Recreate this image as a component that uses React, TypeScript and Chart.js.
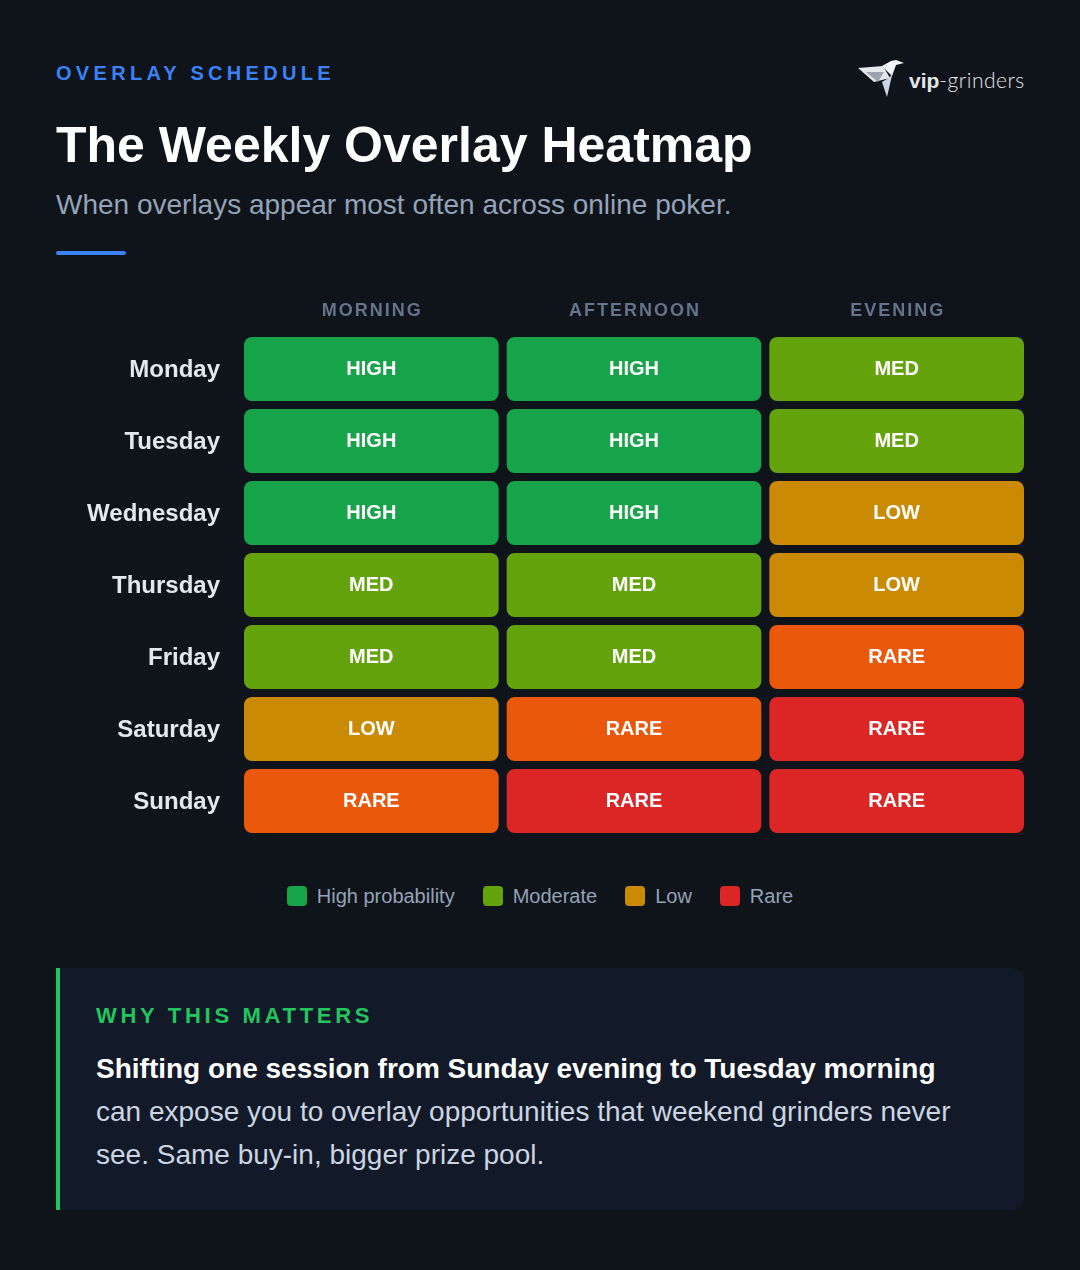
import React, { useEffect, useRef } from 'react';
import { Chart, registerables } from 'chart.js';

Chart.register(...registerables);

const FONT = '"Liberation Sans", Arial, Helvetica, sans-serif';

// ---- data ----
const days = ['Monday', 'Tuesday', 'Wednesday', 'Thursday', 'Friday', 'Saturday', 'Sunday'];
const periods = ['MORNING', 'AFTERNOON', 'EVENING'];
// 5 = HIGH, 4 = MED, 3 = LOW, 2 = RARE (orange), 1 = RARE (red)
const morningLevel = [5, 5, 5, 4, 4, 3, 2];
const afternoonLevel = [5, 5, 5, 4, 4, 2, 1];
const eveningLevel = [4, 4, 3, 3, 2, 1, 1];
const levelText: Record<number, string> = { 5: 'HIGH', 4: 'MED', 3: 'LOW', 2: 'RARE', 1: 'RARE' };
const levelColor: Record<number, string> = {
  5: '#16a34a',
  4: '#65a30d',
  3: '#ca8a04',
  2: '#ea580c',
  1: '#dc2626',
};
const legendLabels = ['High probability', 'Moderate', 'Low', 'Rare'];
const legendColors = ['#16a34a', '#65a30d', '#ca8a04', '#dc2626'];

const periodLevels = [morningLevel, afternoonLevel, eveningLevel];

function HeatmapChart() {
  const ref = useRef<HTMLCanvasElement | null>(null);
  useEffect(() => {
    if (!ref.current) return;
    const INSET = 4 / 262.667; // half of 8px gap in x units

    const cellLabels = {
      id: 'cellLabels',
      afterDatasetsDraw(chart: any) {
        const ctx = chart.ctx;
        ctx.save();
        ctx.font = `bold 20px ${FONT}`;
        ctx.fillStyle = '#ffffff';
        ctx.textAlign = 'center';
        ctx.textBaseline = 'middle';
        chart.data.datasets.forEach((ds: any, di: number) => {
          const meta = chart.getDatasetMeta(di);
          meta.data.forEach((el: any, i: number) => {
            const p = el.getCenterPoint();
            ctx.fillText(levelText[periodLevels[di][i]], p.x, p.y);
          });
        });
        ctx.restore();
      },
    };

    const columnHeaders = {
      id: 'columnHeaders',
      afterDraw(chart: any) {
        const ctx = chart.ctx;
        const xs = chart.scales.x;
        ctx.save();
        ctx.font = `bold 18px ${FONT}`;
        ctx.fillStyle = '#64748b';
        ctx.textAlign = 'center';
        ctx.textBaseline = 'middle';
        try {
          (ctx as any).letterSpacing = '2px';
        } catch (e) {}
        periods.forEach((p, i) => {
          ctx.fillText(p, xs.getPixelForValue(i + 0.5) + 1, chart.chartArea.top - 22);
        });
        ctx.restore();
      },
    };

    const chart = new Chart(ref.current, {
      type: 'bar',
      data: {
        labels: days,
        datasets: periods.map((p, i) => ({
          label: p,
          stack: 'cells',
          data: periodLevels[i].map(() => [i + INSET, i + 1 - INSET]) as any,
          backgroundColor: periodLevels[i].map((l) => levelColor[l]),
          borderRadius: 8,
          borderSkipped: false,
          borderWidth: 0,
          barPercentage: 64 / 72,
          categoryPercentage: 1,
        })),
      },
      options: {
        indexAxis: 'y',
        animation: false,
        responsive: false,
        maintainAspectRatio: false,
        layout: { padding: { top: 53, bottom: 43, left: 0, right: 52 } },
        plugins: {
          legend: { display: false },
          tooltip: { enabled: false },
        },
        scales: {
          x: {
            type: 'linear',
            display: false,
            min: 0,
            max: 3,
            stacked: false,
          },
          y: {
            type: 'category',
            stacked: true,
            grid: { display: false, drawTicks: false },
            border: { display: false },
            ticks: {
              color: '#e2e8f0',
              font: { family: FONT, size: 24, weight: 'bold' },
              padding: 20,
              labelOffset: 1.5,
            },
            afterFit(scale: any) {
              scale.width = 240;
            },
          },
        },
      },
      plugins: [cellLabels, columnHeaders],
    });
    return () => chart.destroy();
  }, []);
  return (
    <canvas
      ref={ref}
      width={1080}
      height={600}
      style={{ position: 'absolute', left: 0, top: 280, width: 1080, height: 600 }}
    />
  );
}

export default function App() {
  return (
    <div
      style={{
        position: 'absolute',
        left: 0,
        top: 0,
        width: 1080,
        height: 1270,
        background: '#0f131a',
        overflow: 'hidden',
        fontFamily: FONT,
      }}
    >
      {/* eyebrow */}
      <div
        style={{
          position: 'absolute',
          left: 56,
          top: 63,
          fontSize: 20,
          lineHeight: '20px',
          fontWeight: 700,
          letterSpacing: '4.3px',
          color: '#3b82f6',
          whiteSpace: 'nowrap',
        }}
      >
        OVERLAY SCHEDULE
      </div>
      {/* logo */}
      <svg
        style={{ position: 'absolute', left: 856, top: 58 }}
        width={52}
        height={42}
        viewBox="0 0 52 42"
      >
        <polygon points="2,10 27,8 34,20 18,24" fill="#e5e7eb" />
        <polygon points="10,14 28,14 22,24" fill="#9ca3af" />
        <polygon points="26,8 35,3 40,2 48,5 40,7 36,18" fill="#f3f4f6" />
        <polygon points="34,19 37,13 31,39 26,24" fill="#cbd5e1" />
      </svg>
      <div
        style={{
          position: 'absolute',
          left: 909,
          top: 68,
          fontSize: 21,
          lineHeight: '24px',
          color: '#e5e7eb',
          whiteSpace: 'nowrap',
        }}
      >
        <span style={{ fontWeight: 700 }}>vip</span>
        <span
          style={{
            fontFamily: 'Lato, "DejaVu Sans", sans-serif',
            fontWeight: 300,
            letterSpacing: '0.5px',
            color: '#e5e7eb',
          }}
        >
          -grinders
        </span>
      </div>
      {/* title */}
      <div
        style={{
          position: 'absolute',
          left: 56,
          top: 120,
          fontSize: 50,
          lineHeight: '50px',
          fontWeight: 700,
          color: '#ffffff',
          whiteSpace: 'nowrap',
        }}
      >
        The Weekly Overlay Heatmap
      </div>
      <div
        style={{
          position: 'absolute',
          left: 56,
          top: 191,
          fontSize: 28,
          lineHeight: '28px',
          color: '#94a3b8',
          whiteSpace: 'nowrap',
        }}
      >
        When overlays appear most often across online poker.
      </div>
      <div
        style={{
          position: 'absolute',
          left: 56,
          top: 251,
          width: 70,
          height: 4,
          borderRadius: 2,
          background: '#3b82f6',
        }}
      />

      <HeatmapChart />

      {/* legend */}
      <div
        style={{
          position: 'absolute',
          left: 0,
          top: 884,
          width: 1080,
          height: 24,
          display: 'flex',
          justifyContent: 'center',
          alignItems: 'center',
          gap: 28,
        }}
      >
        {legendLabels.map((l, i) => (
          <div key={l} style={{ display: 'flex', alignItems: 'center', gap: 10 }}>
            <div style={{ width: 20, height: 20, borderRadius: 4, background: legendColors[i] }} />
            <div style={{ fontSize: 20, lineHeight: '24px', color: '#94a3b8' }}>{l}</div>
          </div>
        ))}
      </div>

      {/* callout */}
      <div
        style={{
          position: 'absolute',
          left: 56,
          top: 968,
          width: 964,
          height: 242,
          background: '#121928',
          borderLeft: '4px solid #22c55e',
          borderRadius: '0 12px 12px 0',
        }}
      >
        <div
          style={{
            position: 'absolute',
            left: 36,
            top: 37,
            fontSize: 22,
            lineHeight: '22px',
            fontWeight: 700,
            letterSpacing: '3.7px',
            color: '#22c55e',
            whiteSpace: 'nowrap',
          }}
        >
          WHY THIS MATTERS
        </div>
        <div
          style={{
            position: 'absolute',
            left: 36,
            top: 79,
            fontSize: 28,
            lineHeight: '43px',
            color: '#cbd5e1',
            whiteSpace: 'nowrap',
          }}
        >
          <div style={{ fontWeight: 700, color: '#ffffff' }}>
            Shifting one session from Sunday evening to Tuesday morning
          </div>
          <div>can expose you to overlay opportunities that weekend grinders never</div>
          <div>see. Same buy-in, bigger prize pool.</div>
        </div>
      </div>
    </div>
  );
}
